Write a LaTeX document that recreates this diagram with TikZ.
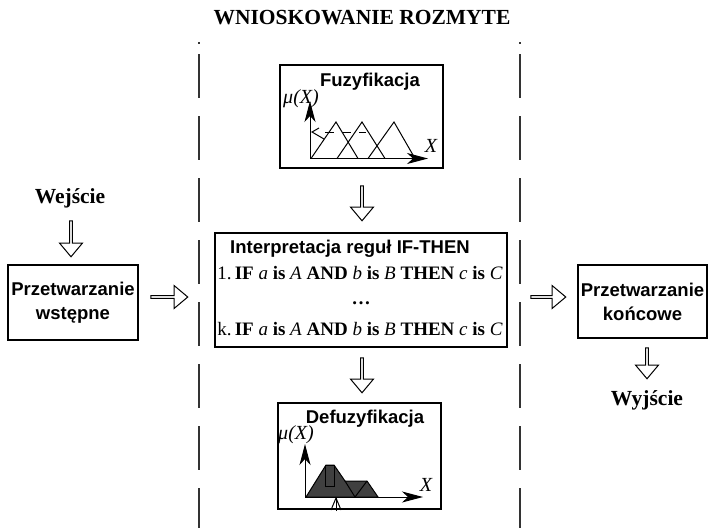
\documentclass[tikz,border=0pt]{standalone}
\usepackage{fontspec}
\setmainfont{Liberation Serif}
\setsansfont{Liberation Sans}
\usetikzlibrary{shapes.arrows,arrows.meta}

% one rule of the rule base, #1 is its number
\newcommand\regula[1]{#1.\,\textbf{IF} \textit{a} \textbf{is} \textit{A} \textbf{AND} \textit{b} \textbf{is} \textit{B} \textbf{THEN} \textit{c} \textbf{is} \textit{C}}

\begin{document}
\begin{tikzpicture}[x=1pt,y=-1pt,
  box/.style={draw=black, line width=1.2pt, rectangle, inner sep=0pt, fill=white},
  sanslabel/.style={font=\sffamily\bfseries\fontsize{18.5}{24}\selectfont, align=center, inner sep=0pt},
  seriflabel/.style={font=\bfseries\fontsize{21.5}{24}\selectfont, inner sep=0pt},
  rulelabel/.style={font=\fontsize{19}{23}\selectfont, inner sep=0pt},
  plotlabel/.style={font=\itshape\fontsize{20}{22}\selectfont, inner sep=0pt},
  blockarrow/.style={draw=black, line width=1pt, fill=white, single arrow,
    single arrow head extend=4pt, single arrow tip angle=80,
    minimum width=23pt, inner sep=0pt},
  sepline/.style={draw=black!80, line width=1.2pt, dash pattern=on 44pt off 18pt},
  axis/.style={line width=1pt, -{Stealth[length=21pt,width=11pt,inset=6pt]}},
  plotline/.style={line width=1pt},
]
\useasboundingbox (0,0) rectangle (708,528);
\fill[white] (0,0) rectangle (708,528);

% title of the inference block and its dashed borders
\node[font=\bfseries\fontsize{21.5}{24}\selectfont, inner sep=0pt] (title) at (362,18) {WNIOSKOWANIE ROZMYTE};
\draw[sepline] (199,54) -- (199,528);
\draw[sepline] (520,54) -- (520,528);
\draw[black!80, line width=1.2pt] (199,42) -- (199,44);
\draw[black!80, line width=1.2pt] (520,42) -- (520,44);

% boxes
\node[box, minimum width=163pt, minimum height=103pt] (fuzz) at (361.5,116.5) {};
\node[box, minimum width=292pt, minimum height=114pt] (interp) at (361,290) {};
\node[box, minimum width=163pt, minimum height=106pt] (defuzz) at (359.5,456) {};
\node[box, minimum width=130pt, minimum height=75pt, sanslabel] (pre) at (73,302.5) {Przetwarzanie\\wstępne};
\node[box, minimum width=129pt, minimum height=73pt, sanslabel] (post) at (642.5,301.5) {Przetwarzanie\\końcowe};

% input / output labels
\node[seriflabel] (in) at (70,198) {Wejście};
\node[seriflabel] (out) at (647,400) {Wyjście};

% box titles
\node[sanslabel] (fuzzt) at (370,82) {Fuzyfikacja};
\node[sanslabel] (interpt) at (350,249) {Interpretacja reguł IF-THEN};
\node[sanslabel] (defuzzt) at (365,419) {Defuzyfikacja};

% rule base
\node[rulelabel] (r1) at (360,273) {\regula{1}};
\node[rulelabel, font=\bfseries\fontsize{19}{23}\selectfont] (rdots) at (361,303) {\dots};
\node[rulelabel] (rk) at (360,329) {\regula{k}};

% block arrows between the stages
\node[blockarrow, shape border rotate=270, minimum height=36pt] (a1) at (71,238) {};
\node[blockarrow, minimum height=37pt] (a2) at (168.5,297) {};
\node[blockarrow, minimum height=35pt] (a3) at (547.5,297) {};
\node[blockarrow, shape border rotate=270, minimum height=31pt] (a4) at (647,362.5) {};
\node[blockarrow, shape border rotate=270, minimum height=35pt] (a5) at (362,202.5) {};
\node[blockarrow, shape border rotate=270, minimum height=35pt] (a6) at (362,374.5) {};

% fuzzification plot
\draw[axis] (310,158.5) -- (310,101);
\draw[axis] (310,158.5) -- (428,158.5);
\node[plotlabel] (mu1) at (301,99) {μ(X)};
\node[plotlabel] (x1) at (431,146) {X};
\draw[plotline] (311,158.5) -- (336,122) -- (358,158.5);
\draw[plotline] (337,158.5) -- (362,122) -- (385,158.5);
\draw[plotline] (368,158.5) -- (394,122) -- (415,158.5);
\draw[plotline, dash pattern=on 9pt off 8pt] (325,132) -- (366,132);
\draw[plotline] (319,128) -- (312,132) -- (324,139);

% defuzzification plot
\draw[axis] (305,497) -- (305,444);
\draw[axis] (305,497) -- (423,497);
\node[plotlabel] (mu2) at (296,435) {μ(X)};
\node[plotlabel] (x2) at (426,485) {X};
\draw[plotline, fill=black!75] (306,497) -- (326,465) -- (334,465) -- (345,481)
  -- (367,481) -- (378,497) -- cycle;
\draw[plotline] (345,481) -- (355,497) -- (367,481);
\draw[plotline, fill=black!75] (325,465) rectangle (334,486);
\draw[plotline] (336,511) -- (336,498);
\draw[plotline] (331,510) -- (336,498) -- (341,510);
\end{tikzpicture}
\end{document}
